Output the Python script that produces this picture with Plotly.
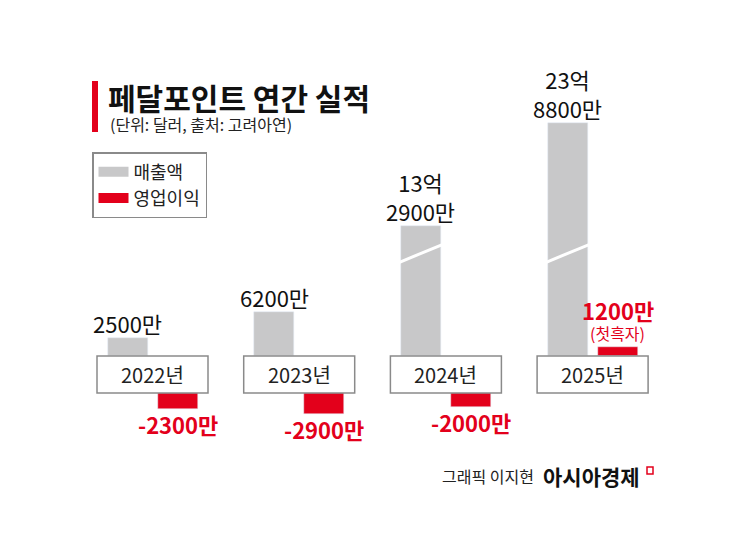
import plotly.graph_objects as go

# 단위: 백만 달러 (100만 달러)
years = ["2022년", "2023년", "2024년", "2025년"]
revenue = [25, 62, 1329, 2388]
op_profit = [-23, -29, -20, 12]
revenue_labels = ["2500만", "6200만", "13억<br>2900만", "23억<br>8800만"]
profit_labels = ["-2300만", "-2900만", "-2000만", "1200만"]
profit_notes = ["", "", "", "(첫흑자)"]
legend_names = ["매출액", "영업이익"]

GRAY = "#c8c8c9"
RED = "#e3001b"
FONT = "Noto Sans CJK KR"

W, H = 745, 559
OFF = 8                     # 페이지 body 여백 보정
PX_PER_UNIT = 0.71          # 픽셀 / 백만 달러
BREAK_AT = 200              # 이 이상은 축 생략 처리
BREAK_SCALE = 0.1375        # 생략 구간 압축 비율

BOX_TOP, BOX_BOT = 356, 393  # 연도 박스 (화면 픽셀)
GROUP_PX = 146.7
FIRST_CENTER_PX = 152.5


def px(x):
    return (x - OFF) / W


def py(y):
    return 1 - (y - OFF) / H


def shown(v):
    # 큰 값은 축을 끊어 줄여서 그린다
    if v > BREAK_AT:
        return v * BREAK_SCALE
    return v


xs = list(range(len(years)))
rev_shown = [shown(v) for v in revenue]
pos_profit = [v if v > 0 else None for v in op_profit]
neg_profit = [v if v < 0 else None for v in op_profit]

bar_w = 40 / GROUP_PX
gap = 5 / GROUP_PX

fig = go.Figure()
fig.add_trace(go.Bar(
    x=xs, y=rev_shown, name="매출액", marker_color=GRAY,
    width=bar_w, offset=-gap - bar_w, showlegend=False,
    customdata=revenue, hovertemplate="%{customdata}백만 달러<extra></extra>"))
fig.add_trace(go.Bar(
    x=xs, y=pos_profit, name="영업이익", marker_color=RED,
    width=bar_w, offset=gap, showlegend=False))
fig.add_trace(go.Bar(
    x=xs, y=neg_profit, name="영업이익", marker_color=RED, yaxis="y2",
    width=bar_w, offset=gap, showlegend=False))

# 범례용 (넓은 색 막대 모양)
for name, color in zip(legend_names, [GRAY, RED]):
    fig.add_trace(go.Scatter(
        x=[None], y=[None], mode="lines", name=name,
        line=dict(color=color, width=12), showlegend=True))

shapes = []
annotations = []

# 연도 박스와 라벨
half_box = 55.5 / GROUP_PX
for i, yr in enumerate(years):
    shapes.append(dict(
        type="rect", xref="x", yref="paper",
        x0=i - half_box, x1=i + half_box,
        y0=py(BOX_BOT), y1=py(BOX_TOP),
        line=dict(color="#8a8a8a", width=1.5), fillcolor="white", layer="above"))
    annotations.append(dict(
        x=i, y=py((BOX_TOP + BOX_BOT) / 2), xref="x", yref="paper",
        xanchor="center", yanchor="middle",
        text=yr, showarrow=False, font=dict(size=20, color="#222", family=FONT)))

rev_center = -gap - bar_w / 2
prof_center = gap + bar_w / 2
for i in xs:
    # 매출액 라벨
    annotations.append(dict(
        x=i + rev_center, y=rev_shown[i], xref="x", yref="y",
        xanchor="center", yanchor="bottom", yshift=-3,
        text=revenue_labels[i], showarrow=False,
        font=dict(size=22, color="#111", family=FONT)))
    # 축 생략 표시
    if revenue[i] > BREAK_AT:
        shapes.append(dict(
            type="line", xref="x", yref="y",
            x0=i - gap - bar_w - 0.01, x1=i - gap + 0.01,
            y0=132, y1=157, line=dict(color="white", width=3), layer="above"))
    # 영업이익 라벨
    if op_profit[i] < 0:
        annotations.append(dict(
            x=i + prof_center, y=op_profit[i], xref="x", yref="y2",
            xanchor="center", yanchor="top", yshift=3,
            text="<b>" + profit_labels[i] + "</b>", showarrow=False,
            font=dict(size=22, color=RED, family=FONT)))
    else:
        annotations.append(dict(
            x=i + prof_center, y=op_profit[i], xref="x", yref="y",
            xanchor="center", yanchor="bottom", yshift=0,
            text=profit_notes[i], showarrow=False,
            font=dict(size=16, color=RED, family=FONT)))
        annotations.append(dict(
            x=i + prof_center, y=op_profit[i], xref="x", yref="y",
            xanchor="center", yanchor="bottom", yshift=19,
            text="<b>" + profit_labels[i] + "</b>", showarrow=False,
            font=dict(size=22, color=RED, family=FONT)))

# 제목
shapes.append(dict(type="rect", xref="paper", yref="paper",
                   x0=px(92), x1=px(98), y0=py(132), y1=py(81),
                   fillcolor=RED, line_width=0))
annotations.append(dict(
    x=px(106), y=py(97), xref="paper", yref="paper",
    xanchor="left", yanchor="middle",
    text="<b>페달포인트 연간 실적</b>", showarrow=False,
    font=dict(size=30, color="#111", family=FONT)))
annotations.append(dict(
    x=px(108), y=py(124), xref="paper", yref="paper",
    xanchor="left", yanchor="middle",
    text="(단위: 달러, 출처: 고려아연)", showarrow=False,
    font=dict(size=16, color="#222", family=FONT)))

# 하단 크레딧
annotations.append(dict(
    x=px(536), y=py(476), xref="paper", yref="paper",
    xanchor="right", yanchor="middle",
    text="그래픽 이지현", showarrow=False,
    font=dict(size=16, color="#222", family=FONT)))
annotations.append(dict(
    x=px(541), y=py(476), xref="paper", yref="paper",
    xanchor="left", yanchor="middle",
    text="<b>아시아경제</b>", showarrow=False,
    font=dict(size=21, color="#111", family=FONT)))
shapes.append(dict(
    type="path", xref="paper", yref="paper",
    path="M {0},{1} L {2},{1} L {2},{3} L {0},{3} Z".format(
        px(647), py(467), px(653), py(474)),
    line=dict(color=RED, width=1.5), fillcolor="white"))

fig.update_layout(
    width=W, height=H,
    margin=dict(l=0, r=0, t=0, b=0),
    paper_bgcolor="white", plot_bgcolor="white",
    barmode="overlay", bargap=0,
    font=dict(family=FONT),
    showlegend=True,
    legend=dict(
        x=px(92), y=py(152), xanchor="left", yanchor="top",
        bordercolor="#8a8a8a", borderwidth=1.5, bgcolor="white",
        font=dict(size=18, color="#222", family=FONT),
        itemwidth=30, tracegroupgap=2),
    xaxis=dict(range=[-(FIRST_CENTER_PX - OFF) / GROUP_PX,
                      (W + OFF - FIRST_CENTER_PX) / GROUP_PX],
               visible=False, fixedrange=True),
    yaxis=dict(domain=[py(BOX_TOP), 1],
               range=[0, (BOX_TOP - OFF) / PX_PER_UNIT],
               visible=False, fixedrange=True),
    yaxis2=dict(domain=[0, py(BOX_BOT)],
                range=[-(H + OFF - BOX_BOT) / PX_PER_UNIT, 0],
                visible=False, fixedrange=True, anchor="x"),
    shapes=shapes,
    annotations=annotations,
)

fig.write_html("out.html")
